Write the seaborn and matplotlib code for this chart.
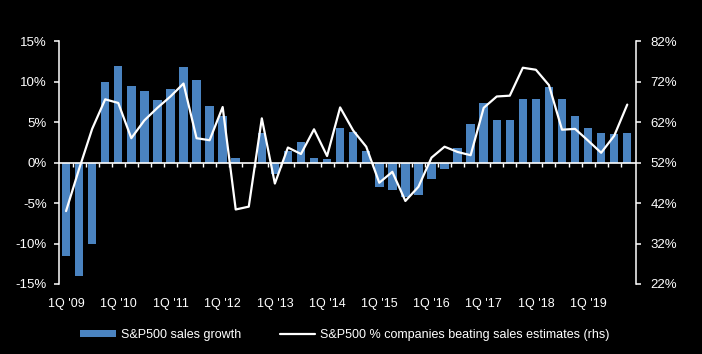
import numpy as np
import pandas as pd
import matplotlib
matplotlib.use("Agg")
import matplotlib.pyplot as plt
import seaborn as sns

# ---------------- data ----------------
quarters = [f"{q}Q '{y:02d}" for y in range(9, 20) for q in range(1, 5)]

sales_growth = [
    -11.5, -14.0, -10.1, 10.0,
    11.9, 9.5, 8.85, 7.7,
    9.05, 11.8, 10.2, 7.0,
    5.8, 0.5, 0.0, 3.7,
    -1.4, 1.45, 2.5, 0.6,
    0.45, 4.3, 3.8, 1.45,
    -3.0, -3.4, -4.3, -4.0,
    -2.0, -0.75, 1.85, 4.7,
    7.3, 5.2, 5.3, 7.9,
    7.8, 9.3, 7.8, 5.8,
    4.2, 3.7, 3.5, 3.6,
]

beat_pct = [
    40.0, 50.4, 60.3, 67.6,
    66.7, 58.0, 62.4, 65.5,
    68.3, 71.5, 58.0, 57.5,
    65.7, 40.4, 41.1, 62.9,
    46.8, 55.7, 54.1, 60.2,
    53.6, 65.6, 59.9, 55.9,
    47.0, 49.7, 42.5, 46.0,
    53.2, 55.9, 54.6, 53.8,
    65.5, 68.3, 68.5, 75.4,
    74.9, 71.1, 60.1, 60.3,
    57.4, 54.4, 58.6, 66.3,
]

left_ticks = [-15, -10, -5, 0, 5, 10, 15]
right_ticks = [22, 32, 42, 52, 62, 72, 82]
bar_label = "S&P500 sales growth"
line_label = "S&P500 % companies beating sales estimates (rhs)"

df = pd.DataFrame({"quarter": quarters, "growth": sales_growth,
                   "beat": beat_pct, "pos": np.arange(len(quarters))})

# ---------------- style ----------------
sns.set_style("dark")
plt.rcParams["font.family"] = ["Liberation Sans", "DejaVu Sans"]
plt.rcParams["axes.unicode_minus"] = False
BG = "black"
FG = "white"
BLUE = "#4A83C0"
FS = 9
YFS = 9.5

fig = plt.figure(figsize=(7.02, 3.54), dpi=100, facecolor=BG)
ax = fig.add_axes([59 / 702, 1 - 284 / 354, (636 - 59) / 702, (284 - 41) / 354])
ax.set_facecolor(BG)

sns.barplot(data=df, x="pos", y="growth", order=list(df["pos"]), color=BLUE,
            saturation=1, width=0.65, ax=ax, label=bar_label, native_scale=False,
            edgecolor="none", linewidth=0)

n = len(quarters)
ax.set_xlim(-0.54, n - 1 + 0.67)
ax.set_ylim(left_ticks[0], left_ticks[-1])
ax.set_yticks(left_ticks)
ax.set_yticklabels([f"{v}%" for v in left_ticks])
ax.set_xticks(np.arange(0, n, 4))
ax.set_xticklabels([quarters[i] for i in range(0, n, 4)])
ax.set_xlabel("")
ax.set_ylabel("")
ax.grid(False)

# zero line with small quarter ticks
ax.axhline(0, color=FG, lw=1.2, zorder=3)
bounds = np.arange(n) + 0.5
ax.vlines(bounds[:-1], -0.5, 0, color=FG, lw=1.0, zorder=3)

for s in ["top", "bottom", "right"]:
    ax.spines[s].set_visible(False)
ax.spines["left"].set_color(FG)
ax.spines["left"].set_linewidth(1.1)
ax.tick_params(axis="y", colors=FG, labelcolor=FG, labelsize=YFS, length=3.6,
               width=1.1, direction="out", pad=5, left=True)
ax.tick_params(axis="x", colors=FG, labelcolor=FG, labelsize=FS, length=0, pad=10)

# right axis line
ax2 = ax.twinx()
sns.lineplot(data=df, x="pos", y="beat", color=FG, lw=1.6, ax=ax2, label=line_label,
             legend=False)
ax2.set_ylim(right_ticks[0], right_ticks[-1])
ax2.set_yticks(right_ticks)
ax2.set_yticklabels([f"{v}%" for v in right_ticks])
ax2.set_xlim(ax.get_xlim())
ax2.set_ylabel("")
ax2.set_xlabel("")
ax2.grid(False)
for s in ["top", "bottom", "left"]:
    ax2.spines[s].set_visible(False)
ax2.spines["right"].set_color(FG)
ax2.spines["right"].set_linewidth(1.1)
ax2.tick_params(axis="y", colors=FG, labelcolor=FG, labelsize=YFS, length=3.6,
                width=1.1, direction="out", pad=7, right=True)

# legend
h1, l1 = ax.get_legend_handles_labels()
h2, l2 = ax2.get_legend_handles_labels()
if ax.get_legend() is not None:
    ax.get_legend().remove()
leg = fig.legend(h1 + h2, l1 + l2, loc="center", bbox_to_anchor=(345 / 702, 1 - 335 / 354),
                 ncol=2, frameon=False, fontsize=FS, handlelength=2.85,
                 handleheight=0.56, handletextpad=0.4, columnspacing=3.1,
                 labelcolor=FG)
for p in leg.get_patches():
    p.set_edgecolor("none")

fig.savefig("out.png", dpi=100, facecolor=BG)
